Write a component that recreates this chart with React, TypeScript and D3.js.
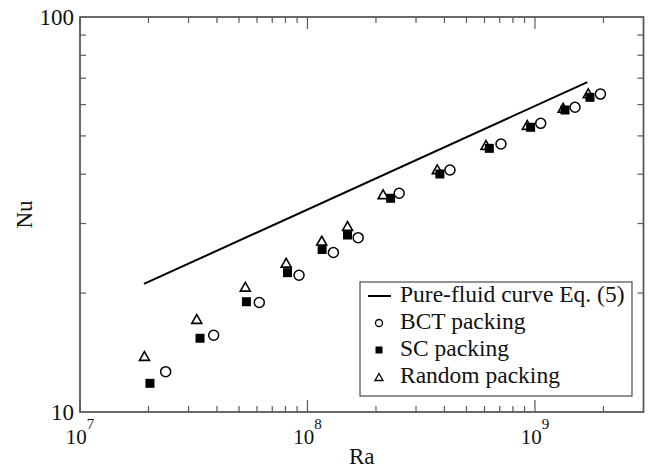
import React from "react";
import * as d3 from "d3";

// ---- data ----
const bctRa = [2.38e7, 3.87e7, 6.14e7, 9.18e7, 1.30e8, 1.67e8, 2.53e8, 4.23e8, 7.09e8, 1.06e9, 1.50e9, 1.94e9];
const bctNu = [12.65, 15.64, 18.93, 22.19, 25.34, 27.63, 35.79, 41.0, 47.7, 53.8, 59.1, 63.8];

const scRa = [2.03e7, 3.37e7, 5.39e7, 8.17e7, 1.16e8, 1.50e8, 2.32e8, 3.82e8, 6.30e8, 9.57e8, 1.355e9, 1.745e9];
const scNu = [11.82, 15.37, 19.02, 22.53, 25.79, 28.06, 34.76, 40.05, 46.5, 52.58, 58.15, 62.62];

const rndRa = [1.92e7, 3.26e7, 5.33e7, 8.06e7, 1.155e8, 1.50e8, 2.15e8, 3.72e8, 6.09e8, 9.25e8, 1.33e9, 1.715e9];
const rndNu = [13.86, 17.2, 20.76, 23.88, 27.15, 29.57, 35.58, 41.17, 47.42, 53.3, 58.9, 64.1];

const pureRa = [1.91e7, 1.70e9];
const pureNu = [21.1, 68.4];

const xMajor = [1e7, 1e8, 1e9];
const xMajorExp = ["7", "8", "9"];
const yMajor = [10, 100];
const yMajorLabels = ["10", "100"];

const legendLabels = ["Pure-fluid curve Eq. (5)", "BCT packing", "SC packing", "Random packing"];

const FONT = "Liberation Serif, DejaVu Serif, Times New Roman, Times, serif";
const AXIS = "#5a5a5a";

export default function App() {
  const left = 80, right = 643.5, top = 17, bottom = 412;
  const x = d3.scaleLog().domain([1e7, 3e9]).range([left, right]);
  const y = d3.scaleLog().domain([10, 100]).range([bottom, top]);

  const xMinor: number[] = [];
  [1e7, 1e8, 1e9].forEach((d) => {
    for (let k = 2; k <= 9; k++) if (d * k < 3e9) xMinor.push(d * k);
  });
  const yMinor: number[] = [];
  for (let k = 2; k <= 9; k++) yMinor.push(k * 10);

  const majorLen = 12, minorLen = 6;
  const line = d3.line<number>().x((d, i) => x(pureRa[i])).y((d) => y(d));

  const tri = (cx: number, cy: number, s: number) => {
    const h = s * 0.88;
    return `M${cx},${cy - h / 2}L${cx + s / 2},${cy + h / 2}L${cx - s / 2},${cy + h / 2}Z`;
  };

  const lx = 360, ly = 282, lw = 272, lh = 114;
  const rowBase = [302, 329, 356, 383];
  const tStyle = { fontFamily: FONT };

  return (
    <svg width={648} height={468} style={{ position: "absolute", left: 0, top: 0, background: "#fff" }}>
      <rect x={0} y={0} width={648} height={468} fill="#fff" />
      {/* ticks */}
      <g stroke={AXIS} strokeWidth={1.2}>
        {xMinor.map((d, i) => (
          <g key={"xm" + i}>
            <line x1={x(d)} x2={x(d)} y1={bottom} y2={bottom - minorLen} />
            <line x1={x(d)} x2={x(d)} y1={top} y2={top + minorLen} />
          </g>
        ))}
        {xMajor.map((d, i) => (
          <g key={"xM" + i}>
            <line x1={x(d)} x2={x(d)} y1={bottom} y2={bottom - majorLen} />
            <line x1={x(d)} x2={x(d)} y1={top} y2={top + majorLen} />
          </g>
        ))}
        {yMinor.map((d, i) => (
          <g key={"ym" + i}>
            <line x1={left} x2={left + minorLen} y1={y(d)} y2={y(d)} />
            <line x1={right} x2={right - minorLen} y1={y(d)} y2={y(d)} />
          </g>
        ))}
      </g>
      <rect x={left} y={top} width={right - left} height={bottom - top} fill="none" stroke={AXIS} strokeWidth={1.8} />

      {/* tick labels */}
      <g fill="#111">
        {xMajor.map((d, i) => (
          <text key={"xl" + i} x={x(d)} y={444} textAnchor="middle" fontSize={21} style={tStyle}>
            10<tspan dy={-15} fontSize={15}>{xMajorExp[i]}</tspan>
          </text>
        ))}
        {yMajor.map((d, i) => (
          <text key={"yl" + i} x={74} y={y(d) + 8} textAnchor="end" fontSize={23} style={tStyle}>
            {yMajorLabels[i]}
          </text>
        ))}
        <text x={(left + right) / 2} y={464} textAnchor="middle" fontSize={23} style={tStyle}>Ra</text>
        <text transform={`translate(32,${(top + bottom) / 2}) rotate(-90)`} textAnchor="middle" fontSize={23} style={tStyle}>Nu</text>
      </g>

      {/* pure fluid curve */}
      <path d={line(pureNu) || ""} fill="none" stroke="#000" strokeWidth={2} />

      {/* markers */}
      {rndRa.map((d, i) => (
        <path key={"t" + i} d={tri(x(d), y(rndNu[i]), 10)} fill="#fff" stroke="#000" strokeWidth={1.6} />
      ))}
      {scRa.map((d, i) => (
        <rect key={"s" + i} x={x(d) - 4.5} y={y(scNu[i]) - 4.5} width={9} height={9} fill="#000" />
      ))}
      {bctRa.map((d, i) => (
        <circle key={"c" + i} cx={x(d)} cy={y(bctNu[i])} r={5} fill="#fff" stroke="#000" strokeWidth={1.5} />
      ))}

      {/* legend */}
      <rect x={lx} y={ly} width={lw} height={lh} fill="#fff" stroke={AXIS} strokeWidth={1.3} />
      <line x1={368} x2={391} y1={296} y2={296} stroke="#000" strokeWidth={2} />
      <circle cx={379} cy={rowBase[1] - 6} r={3.5} fill="#fff" stroke="#000" strokeWidth={1.3} />
      <rect x={375.5} y={rowBase[2] - 9.5} width={7} height={7} fill="#000" />
      <path d={tri(379, rowBase[3] - 6, 8)} fill="#fff" stroke="#000" strokeWidth={1.3} />
      <g fill="#111">
        {legendLabels.map((t, i) => (
          <text key={"lg" + i} x={400} y={rowBase[i]} fontSize={23.5} style={tStyle}>{t}</text>
        ))}
      </g>
    </svg>
  );
}
